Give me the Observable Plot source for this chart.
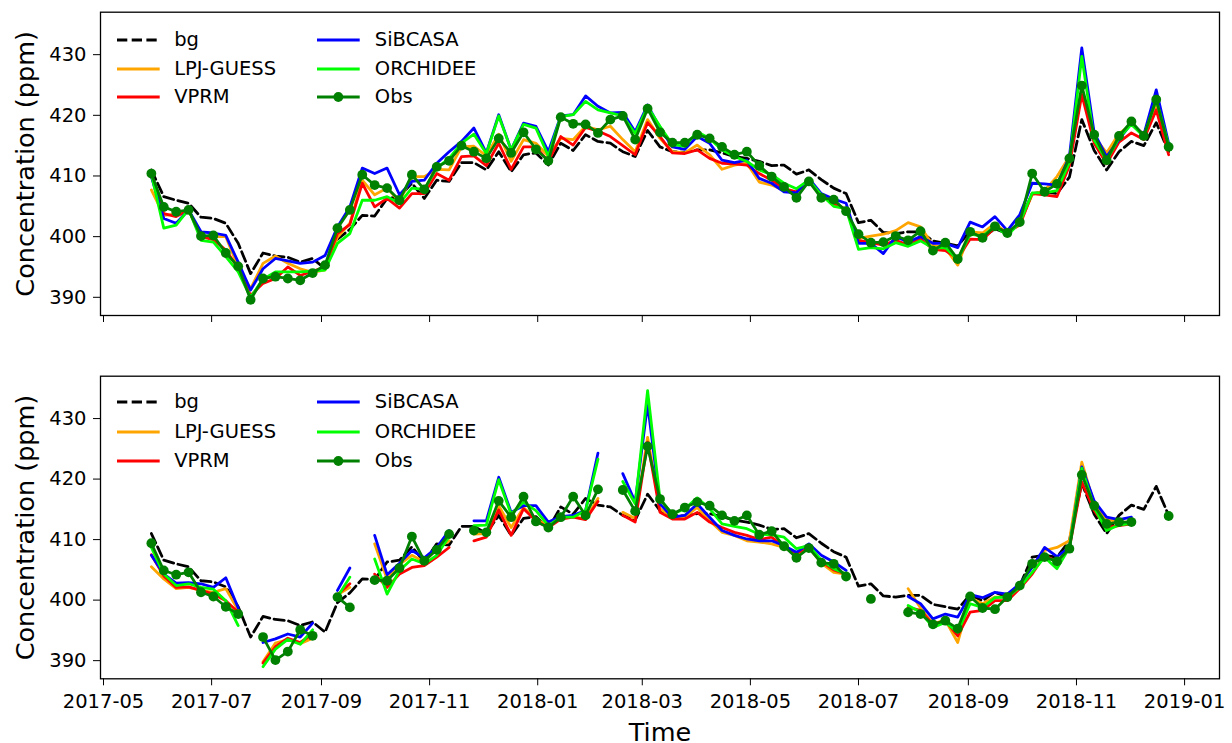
<!DOCTYPE html>
<html>
<head>
<meta charset="utf-8">
<script src="https://cdn.jsdelivr.net/npm/d3@7"></script>
<script src="https://cdn.jsdelivr.net/npm/@observablehq/plot@0.6"></script>
<style>
  html, body { margin: 0; padding: 0; background: #fff; }
  #fig { position: relative; width: 1232px; height: 743px; overflow: hidden; font-family: "DejaVu Sans", sans-serif; }
  .panel { position: absolute; left: 0; }
  .panel g[aria-label="y-axis label"], .panel g[aria-label="x-axis label"],
  .panel g[aria-label="y-axis label"] text, .panel g[aria-label="x-axis label"] text { font-size: 25.5px !important; }
  .lg-item { position: absolute; height: 0; }
  .lg-item svg { position: absolute; overflow: visible; }
  .lg-item span { position: absolute; font-size: 19.5px; line-height: 1; transform: translateY(-50%); white-space: nowrap; color: #000; }
</style>
</head>
<body>
<div id="fig"></div>
<script>
// ---------- data ----------
const firstWeek = "2017-05-28";   // weekly samples (Sundays)
const nWeeks = 83;
const tickLabels = ["2017-05","2017-07","2017-09","2017-11","2018-01","2018-03","2018-05","2018-07","2018-09","2018-11","2019-01"];
const yTicks = [390, 400, 410, 420, 430];
const seriesNames = ["bg", "LPJ-GUESS", "VPRM", "SiBCASA", "ORCHIDEE", "Obs"];
const seriesColors = ["#000000", "#ffa500", "#ff0000", "#0000ff", "#00ff00", "#008000"];

// background (same in both panels)
const bg = [411.0,406.6,406.0,405.5,403.2,403.0,402.2,398.9,393.9,397.3,
  396.8,396.6,395.8,396.4,394.7,399.6,401.2,403.5,403.4,406.3,
  406.6,408.8,406.3,409.3,409.1,412.2,412.2,411.0,414.0,410.7,
  413.5,413.8,411.8,415.4,414.2,416.8,415.7,415.4,414.0,413.2,
  417.5,414.8,414.0,413.9,414.3,414.3,413.8,413.2,412.9,412.4,
  411.7,411.8,410.3,411.0,409.4,408.0,407.1,402.3,402.7,400.7,
  400.5,400.8,400.8,399.3,398.9,398.5,400.9,399.9,401.3,400.5,
  402.4,407.1,407.4,407.1,409.8,419.3,414.2,411.0,414.0,415.7,
  415.0,418.8,414.0];

// ---- top panel ----
const topLPJ = [407.7,403.5,403.7,404.4,400.0,400.0,400.0,395.0,391.4,395.6,
  396.8,395.6,394.7,394.1,394.5,399.9,402.2,409.3,406.9,408.0,
  405.8,409.9,409.9,411.1,411.0,414.8,414.9,413.3,416.9,412.4,
  416.0,415.4,413.3,416.2,416.0,418.2,417.6,418.2,416.0,414.0,
  419.3,416.2,414.0,413.8,415.1,413.5,411.1,411.8,412.1,409.0,
  408.5,407.6,407.1,409.0,406.9,405.4,404.4,399.7,400.1,400.4,
  401.0,402.3,401.6,398.6,398.1,395.3,400.8,400.6,402.2,400.5,
  402.2,406.9,407.6,409.9,413.2,423.9,416.5,413.8,417.0,418.5,
  416.9,421.7,414.6];
const topVPRM = [410.0,403.8,403.3,404.4,400.0,399.5,397.8,394.8,390.3,392.3,
  393.1,395.0,393.6,394.3,395.0,400.5,402.0,408.8,404.9,406.3,
  404.7,407.1,407.1,410.4,409.3,413.2,413.3,411.7,415.4,411.1,
  414.8,414.8,412.4,416.5,415.1,418.0,417.4,416.5,415.0,413.5,
  418.8,416.5,413.8,413.7,414.3,412.9,412.1,412.0,411.8,410.4,
  409.3,407.9,407.4,409.2,406.9,405.5,404.5,399.4,399.0,398.6,
  399.4,398.6,399.7,397.9,397.7,396.4,399.6,399.5,401.5,400.8,
  401.9,407.1,406.9,406.6,411.7,423.4,415.4,412.0,415.6,417.1,
  416.0,420.9,413.5];
const topSiB = [409.9,403.0,402.2,404.4,400.8,400.6,400.2,395.8,391.2,394.7,
  396.4,396.0,395.6,395.8,396.9,401.6,404.9,411.3,410.4,411.3,
  406.9,409.1,409.3,412.1,414.0,415.7,417.9,413.8,420.1,414.3,
  418.7,418.2,414.0,419.9,420.1,423.2,421.5,420.4,420.5,417.3,
  421.7,417.9,414.8,414.4,416.5,415.4,412.6,412.2,412.6,409.6,
  408.8,407.4,407.2,409.6,407.1,406.2,405.5,398.9,398.9,397.2,
  400.0,399.1,400.0,398.9,398.9,398.2,402.4,401.6,403.3,401.0,
  403.6,408.8,408.7,408.5,413.2,431.1,417.1,413.2,416.0,418.7,
  416.8,424.2,415.4];
const topORC = [410.3,401.4,401.9,404.5,399.4,399.1,396.7,394.2,390.0,393.0,
  394.2,394.2,394.2,394.3,394.5,398.9,400.5,406.0,406.0,406.6,
  405.5,408.0,407.8,411.3,412.9,415.4,416.9,413.7,419.9,414.3,
  418.5,417.9,413.3,419.8,420.1,422.3,420.9,420.4,419.9,417.0,
  421.4,418.2,415.2,414.9,417.3,416.2,414.3,413.2,412.4,411.0,
  410.2,408.8,407.9,409.3,406.9,405.0,404.6,397.9,398.2,398.0,
  399.0,398.4,399.3,398.1,398.2,396.2,400.4,400.1,401.7,400.2,
  402.3,407.2,407.2,407.6,412.2,429.7,415.9,412.6,416.3,418.5,
  416.5,422.6,415.1];
const topObs = [410.4,404.9,404.1,404.4,400.1,400.2,397.3,395.1,389.6,393.1,
  393.4,393.1,392.8,394.0,395.3,401.4,404.4,410.2,408.5,408.0,
  406.0,410.2,407.8,411.5,412.5,415.0,414.0,412.9,416.2,413.8,
  417.2,414.4,412.5,419.7,418.6,418.5,417.1,419.3,419.9,416.0,
  421.1,417.2,415.5,415.5,416.8,416.2,414.8,413.5,414.0,411.7,
  409.9,408.2,406.4,409.1,406.4,406.1,404.2,400.4,399.0,399.1,
  400.1,399.4,400.9,397.7,399.0,396.3,400.8,399.8,401.7,400.6,
  402.4,410.4,407.4,408.7,412.9,424.9,416.8,412.6,416.6,419.0,
  416.6,422.6,414.8];

// ---- bottom panel (null = no data) ----
const botLPJ = [405.5,403.5,401.9,402.1,401.6,401.3,401.9,398.3,null,389.8,
  392.9,393.5,392.8,393.7,null,400.9,402.1,null,409.3,403.5,
  405.9,407.4,406.3,408.5,409.8,null,410.9,411.0,415.6,412.0,
  415.3,413.4,412.2,413.7,413.8,413.4,416.8,null,414.5,413.5,
  426.9,415.1,413.7,413.7,415.3,413.1,411.2,410.7,409.8,409.6,
  409.3,408.7,407.6,408.7,406.1,404.6,404.3,null,null,null,
  null,401.9,398.7,396.1,396.7,393.0,400.4,399.4,400.5,400.5,
  402.3,405.7,408.2,408.7,409.8,422.8,415.9,413.4,412.9,412.9,
  null,null,null];
const botVPRM = [407.5,404.0,402.1,402.2,401.6,401.0,399.9,398.0,null,389.6,
  392.3,393.7,393.0,394.4,null,400.9,402.7,null,404.3,402.1,
  404.3,405.4,405.7,407.1,408.7,null,409.8,410.4,414.9,410.7,
  415.1,413.1,412.0,413.4,413.7,413.3,416.3,null,414.0,412.9,
  426.1,414.5,413.4,413.4,414.5,412.9,412.0,411.2,410.7,410.0,
  410.4,408.8,407.7,408.8,406.4,405.0,404.3,null,null,null,
  null,398.8,398.3,396.0,396.6,394.1,398.0,398.3,399.9,399.9,
  401.9,404.3,407.4,406.3,408.6,419.5,414.8,412.0,412.3,412.6,
  null,null,null];
const botSiB = [407.4,404.3,402.8,402.9,402.7,402.1,403.7,398.7,null,393.0,
  393.6,394.4,393.9,396.2,null,401.6,405.3,null,410.7,404.2,
  406.1,408.2,407.0,408.7,411.5,null,413.1,413.1,420.3,414.5,
  415.6,415.6,412.9,413.8,414.0,414.8,424.3,null,420.9,416.2,
  432.4,415.9,413.7,414.0,415.9,413.7,411.5,410.7,410.1,409.8,
  409.8,409.0,407.9,409.3,407.4,406.3,404.9,null,null,null,
  null,400.6,399.4,396.9,397.7,397.2,400.9,400.4,401.3,401.0,
  402.7,405.4,408.7,407.2,408.7,422.0,416.4,413.7,413.3,413.7,
  null,null,null];
const botORC = [408.7,404.3,402.4,402.7,402.1,401.8,399.9,395.8,null,389.0,
  391.9,393.5,392.7,395.1,null,400.5,403.8,null,406.8,401.0,
  404.9,406.8,406.0,407.4,410.5,null,412.3,412.4,419.9,414.2,
  416.2,414.8,412.3,413.7,413.7,414.8,423.3,null,419.6,415.9,
  434.6,416.7,414.2,415.1,416.9,415.1,412.6,412.2,411.8,410.9,
  410.8,410.4,408.5,409.0,406.6,405.2,404.3,null,null,null,
  null,399.1,398.0,395.5,396.3,394.7,399.4,398.8,400.4,400.5,
  402.1,404.6,407.1,405.2,408.7,421.8,415.3,411.5,412.4,412.7,
  null,null,null];
const botObs = [409.4,404.9,404.2,404.6,401.3,400.6,398.9,397.7,null,393.9,
  390.1,391.5,395.1,394.1,null,400.5,398.8,null,403.3,403.2,
  405.3,410.5,406.5,408.3,410.9,null,411.5,411.2,416.4,413.7,
  417.1,413.0,412.0,413.7,417.1,414.0,418.3,null,418.2,414.7,
  425.4,416.7,414.2,415.3,416.2,415.6,414.0,413.1,414.0,410.8,
  411.4,408.9,407.0,408.6,406.2,406.0,403.9,null,400.2,null,
  null,398.0,397.7,396.0,396.6,395.3,400.6,398.7,398.5,400.5,
  402.4,406.0,407.1,406.4,408.5,420.7,415.6,412.6,412.9,412.9,
  null,null,413.9];

// ---------- build ----------
const parseMonth = d3.utcParse("%Y-%m");
const start = d3.utcParse("%Y-%m-%d")(firstWeek);
const dates = d3.range(nWeeks).map(i => d3.utcDay.offset(start, 7 * i));
const ticks = tickLabels.map(parseMonth);
const span = dates[nWeeks - 1] - dates[0];
const xDomain = [new Date(+dates[0] - 0.05 * span), new Date(+dates[nWeeks - 1] + 0.05 * span)];
const yDomain = [387, 437];
const idx = d3.range(nWeeks);
const LW = 2.78;
const FS = 19.5;

function panelPlot({series, obs, height, marginTop, marginBottom, showX}) {
  const val = s => i => (s[i] == null ? NaN : s[i]);
  const marks = [
    Plot.line(idx, {x: i => dates[i], y: val(bg), stroke: seriesColors[0], strokeWidth: LW, strokeDasharray: "10.3,4.4"}),
  ];
  series.forEach((s, k) => {
    marks.push(Plot.line(idx, {x: i => dates[i], y: val(s), stroke: seriesColors[k + 1], strokeWidth: LW}));
  });
  marks.push(Plot.line(idx, {x: i => dates[i], y: val(obs), stroke: seriesColors[5], strokeWidth: LW}));
  marks.push(Plot.dot(idx.filter(i => obs[i] != null), {x: i => dates[i], y: i => obs[i], r: 4.9, fill: seriesColors[5], stroke: "none"}));
  marks.push(Plot.axisY({ticks: yTicks, tickSize: 7, tickPadding: 7, fontSize: FS,
    label: "Concentration (ppm)", labelAnchor: "center", labelArrow: "none", labelOffset: 85}));
  if (showX) {
    marks.push(Plot.axisX({ticks, tickSize: 7, tickPadding: 8, fontSize: FS, tickFormat: d3.utcFormat("%Y-%m"),
      label: "Time", labelAnchor: "center", labelArrow: "none", labelOffset: 61.8}));
  } else {
    marks.push(Plot.axisX({ticks, tickSize: 7, tickFormat: () => "", label: null}));
  }
  marks.push(Plot.frame({stroke: "#000", strokeWidth: 1.3}));
  return Plot.plot({
    width: 1232, height,
    marginLeft: 100, marginRight: 13, marginTop, marginBottom,
    x: {type: "utc", domain: xDomain},
    y: {domain: yDomain},
    style: {fontFamily: "DejaVu Sans", fontSize: FS + "px", color: "#000", background: "#fff", overflow: "visible"},
    marks
  });
}

const fig = document.getElementById("fig");
function place(el, top) { el.classList.add("panel"); el.style.top = top + "px"; fig.appendChild(el); }

place(panelPlot({series: [topLPJ, topVPRM, topSiB, topORC], obs: topObs, height: 330, marginTop: 11.7, marginBottom: 15, showX: false}), 0);
place(panelPlot({series: [botLPJ, botVPRM, botSiB, botORC], obs: botObs, height: 383, marginTop: 15.7, marginBottom: 64.7, showX: true}), 360);

// legends (3 rows x 2 columns, column-major order)
function legend(rowYs) {
  const colX = [116.7, 317.3];
  seriesNames.forEach((name, k) => {
    const col = Math.floor(k / 3), row = k % 3;
    const item = document.createElement("div");
    item.className = "lg-item";
    item.style.left = colX[col] + "px";
    item.style.top = rowYs[row] + "px";
    const ns = "http://www.w3.org/2000/svg";
    const svg = document.createElementNS(ns, "svg");
    svg.setAttribute("width", 43); svg.setAttribute("height", 12);
    svg.style.left = "0px"; svg.style.top = "-6px";
    const ln = document.createElementNS(ns, "line");
    ln.setAttribute("x1", 0); ln.setAttribute("x2", 42.7); ln.setAttribute("y1", 6); ln.setAttribute("y2", 6);
    ln.setAttribute("stroke", seriesColors[k]); ln.setAttribute("stroke-width", LW);
    if (k === 0) ln.setAttribute("stroke-dasharray", "10.3,4.4");
    svg.appendChild(ln);
    if (k === 5) {
      const c = document.createElementNS(ns, "circle");
      c.setAttribute("cx", 21.35); c.setAttribute("cy", 6); c.setAttribute("r", 4.9);
      c.setAttribute("fill", seriesColors[k]);
      svg.appendChild(c);
    }
    item.appendChild(svg);
    const sp = document.createElement("span");
    sp.textContent = name;
    sp.style.left = "57.5px";
    item.appendChild(sp);
    fig.appendChild(item);
  });
}
legend([40, 68.5, 97.3]);
legend([402.3, 431.7, 460.7]);
</script>
</body>
</html>
